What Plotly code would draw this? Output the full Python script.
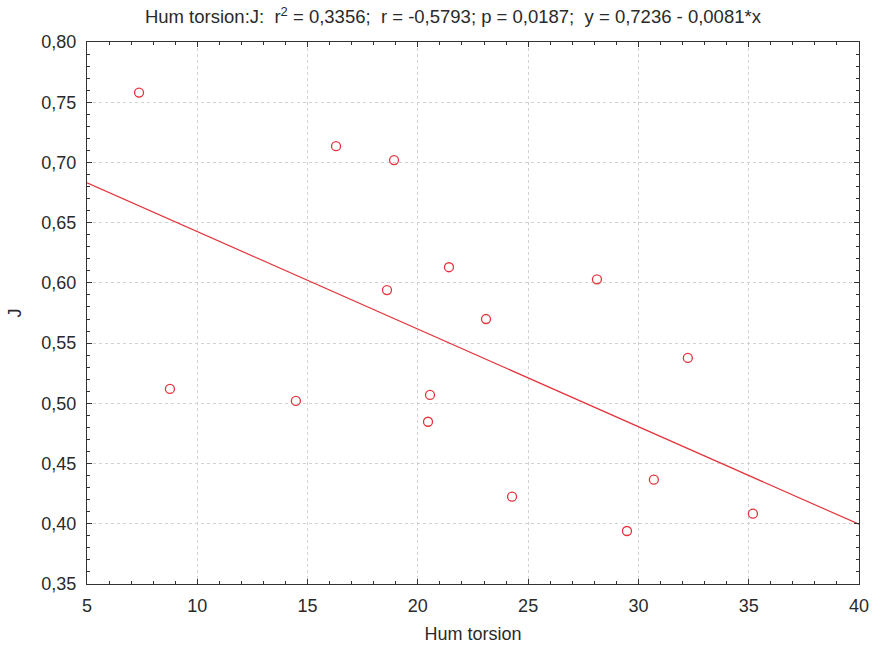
import plotly.graph_objects as go

hum_torsion = [7.36, 8.76, 14.47, 16.29, 18.92, 18.6, 20.46, 20.55, 21.41, 23.09,
               24.27, 28.12, 29.48, 30.7, 32.24, 35.19]
j_values = [0.758, 0.512, 0.502, 0.7135, 0.702, 0.594, 0.4847, 0.507, 0.613, 0.570,
            0.4225, 0.603, 0.394, 0.4366, 0.5377, 0.4084]

intercept = 0.7236
slope = -0.0081
x_range = [5, 40]
line_x = x_range
line_y = [intercept + slope * v for v in line_x]

red = "#e3343c"
font_family = "Liberation Sans, Arial, sans-serif"
text_color = "#2a2a2a"
fs = 18

fig = go.Figure()
fig.add_trace(go.Scatter(x=line_x, y=line_y, mode="lines",
                         line=dict(color=red, width=1.2), hoverinfo="skip"))
fig.add_trace(go.Scatter(x=hum_torsion, y=j_values, mode="markers",
                         marker=dict(symbol="circle-open", size=9, color=red,
                                     line=dict(width=1.3, color=red))))

axis_common = dict(
    showline=True, linecolor="#333333", linewidth=1.3, mirror="allticks",
    ticks="inside", ticklen=5, tickcolor="#333333", tickwidth=1,
    showgrid=True, gridcolor="#d2d2d2", griddash="dot", gridwidth=1,
    zeroline=False, automargin=False,
    tickfont=dict(family=font_family, size=fs, color=text_color),
)

fig.update_xaxes(range=x_range, dtick=5, tick0=5, ticklabelstandoff=5,
                 minor=dict(ticks="inside", ticklen=3, dtick=1, tickcolor="#333333", showgrid=False),
                 title=dict(text="Hum torsion", font=dict(family=font_family, size=fs, color=text_color),
                            standoff=12),
                 **axis_common)
fig.update_yaxes(range=[0.35, 0.80], dtick=0.05, tick0=0.35, tickformat=".2f", ticklabelstandoff=6,
                 minor=dict(ticks="inside", ticklen=3, dtick=0.01, tickcolor="#333333", showgrid=False),
                 title=dict(text="J", font=dict(family=font_family, size=fs, color=text_color),
                            standoff=14),
                 **axis_common)

fig.update_layout(
    width=873, height=650,
    margin=dict(l=87, r=14, t=42, b=66),
    plot_bgcolor="white", paper_bgcolor="white",
    showlegend=False,
    separators=", ",
    title=dict(text="Hum torsion:J:  r<sup>2</sup> = 0,3356;  r = -0,5793; p = 0,0187;  y = 0,7236 - 0,0081*x",
               xref="container", x=0.166, xanchor="left", y=0.974, yanchor="middle",
               font=dict(family=font_family, size=18.5, color=text_color)),
)

fig.write_html("out.html", config={"displayModeBar": False},
               post_script="document.body.style.margin='0';")
